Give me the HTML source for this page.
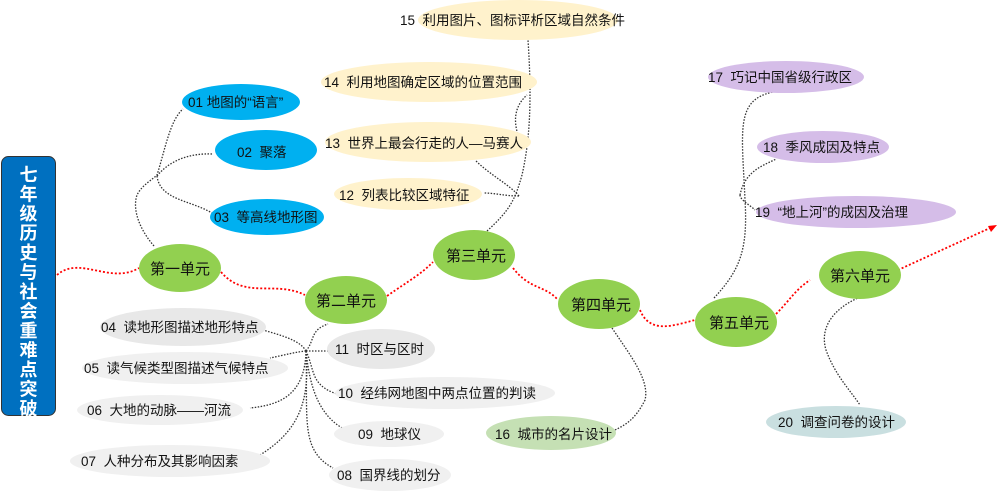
<!DOCTYPE html>
<html><head><meta charset="utf-8"><style>
html,body{margin:0;padding:0;background:#fff;}
svg{display:block;}
text{font-family:"Liberation Sans","Noto Sans CJK SC",sans-serif;font-size:13.5px;fill:#111;white-space:pre;}
.u{font-size:15px;}
.b{fill:none;stroke:#333;stroke-width:1.3;stroke-dasharray:1.5 1.5;}
.r{fill:none;stroke:#f00;stroke-width:1.8;stroke-dasharray:2 2;}
</style></head><body>
<svg width="998" height="493" viewBox="0 0 998 493" xmlns="http://www.w3.org/2000/svg">
<!-- black connectors -->
<path class="b" d="M154 246 C140 230,132 210,137 195 C142 185,152 180,157 175 C165 150,170 120,183 109"/>
<path class="b" d="M157 176 C170 160,190 153,213 154"/>
<path class="b" d="M157 176 C160 200,190 200,212 213"/>
<path class="b" d="M306 351 C315 340,310 330,328 324"/>
<path class="b" d="M306 351 L329 351"/>
<path class="b" d="M306 351 C300 340,280 335,263 330"/>
<path class="b" d="M306 351 C295 352,285 355,270 358"/>
<path class="b" d="M306 351 C305 395,280 405,250 408"/>
<path class="b" d="M306 351 C310 400,300 430,260 455"/>
<path class="b" d="M306 351 C315 370,310 385,337 394"/>
<path class="b" d="M306 351 C310 390,320 420,352 433"/>
<path class="b" d="M306 351 C308 420,300 450,333 468"/>
<path class="b" d="M487 231 C510 210,515 200,522 175 C530 140,532 100,528 40"/>
<path class="b" d="M522 145 C515 130,510 110,527 95"/>
<path class="b" d="M519 196 C510 185,490 175,475 160"/>
<path class="b" d="M519 196 C505 196,495 193,484 193"/>
<path class="b" d="M612 328 C630 355,650 380,645 400 C635 420,625 425,615 430"/>
<path class="b" d="M714 298 C740 270,748 250,745 200 C742 130,735 100,773 92"/>
<path class="b" d="M740 195 C745 170,765 165,776 159"/>
<path class="b" d="M740 195 C740 200,750 205,755 210"/>
<path class="b" d="M860 297 C830 310,820 330,826 350 C835 375,850 390,860 405"/>
<!-- red connectors -->
<path class="r" d="M57 275 C80 255,110 285,139 268"/>
<path class="r" d="M221 272 C245 300,275 280,305 295"/>
<path class="r" d="M387 296 C410 280,420 275,433 262"/>
<path class="r" d="M513 268 C530 290,545 285,558 300"/>
<path class="r" d="M640 310 C650 335,675 325,695 320"/>
<path class="r" d="M776 314 C790 300,795 290,810 280"/>
<path class="r" d="M898 270 L990 228"/>
<path d="M997 225 L988 226 L991 232 Z" fill="#f00"/>
<!-- title -->
<rect x="1.5" y="156.5" width="54" height="259" rx="7" fill="#0070c0" stroke="#333" stroke-width="1"/>
<text x="28.5" y="181" text-anchor="middle" style="font-size:18px;font-weight:bold;fill:#fff">
<tspan x="28.5" dy="0">七</tspan><tspan x="28.5" dy="19.5">年</tspan><tspan x="28.5" dy="19.5">级</tspan><tspan x="28.5" dy="19.5">历</tspan><tspan x="28.5" dy="19.5">史</tspan><tspan x="28.5" dy="19.5">与</tspan><tspan x="28.5" dy="19.5">社</tspan><tspan x="28.5" dy="19.5">会</tspan><tspan x="28.5" dy="19.5">重</tspan><tspan x="28.5" dy="19.5">难</tspan><tspan x="28.5" dy="19.5">点</tspan><tspan x="28.5" dy="19.5">突</tspan><tspan x="28.5" dy="19.5">破</tspan></text>
<!-- blue -->
<ellipse cx="241" cy="102" rx="59" ry="18" fill="#00b0f0"/>
<text x="188" y="107">01 地图的“语言”</text>
<ellipse cx="266" cy="150" rx="51" ry="20" fill="#00b0f0"/>
<text x="237" y="157">02  聚落</text>
<ellipse cx="267" cy="217" rx="57" ry="18" fill="#00b0f0"/>
<text x="214" y="222">03  等高线地形图</text>
<!-- grey -->
<ellipse cx="183" cy="327" rx="83" ry="19" fill="#e8e8e8"/>
<text x="101" y="332">04  读地形图描述地形特点</text>
<ellipse cx="185" cy="368" rx="103" ry="16" fill="#f0f0f0"/>
<text x="84" y="373">05  读气候类型图描述气候特点</text>
<ellipse cx="160" cy="410" rx="83" ry="15" fill="#f0f0f0"/>
<text x="87" y="415">06  大地的动脉——河流</text>
<ellipse cx="170" cy="461" rx="100" ry="16" fill="#f0f0f0"/>
<text x="81" y="466">07  人种分布及其影响因素</text>
<ellipse cx="381" cy="349" rx="54" ry="20" fill="#e8e8e8"/>
<text x="335" y="354">11  时区与区时</text>
<ellipse cx="445" cy="393" rx="110" ry="16" fill="#f0f0f0"/>
<text x="338" y="398">10  经纬网地图中两点位置的判读</text>
<ellipse cx="389" cy="434" rx="55" ry="13" fill="#f0f0f0"/>
<text x="358" y="439">09  地球仪</text>
<ellipse cx="390" cy="475" rx="61" ry="16" fill="#f0f0f0"/>
<text x="337" y="480">08  国界线的划分</text>
<!-- yellow -->
<ellipse cx="518" cy="20" rx="100" ry="20" fill="#fff2cc"/>
<text x="400" y="25">15  利用图片、图标评析区域自然条件</text>
<ellipse cx="429" cy="82" rx="108" ry="20" fill="#fff2cc"/>
<text x="324" y="87">14  利用地图确定区域的位置范围</text>
<ellipse cx="428" cy="142" rx="103" ry="20" fill="#fff2cc"/>
<text x="325" y="148">13  世界上最会行走的人—马赛人</text>
<ellipse cx="408" cy="194" rx="74" ry="16" fill="#fff2cc"/>
<text x="339" y="200">12  列表比较区域特征</text>
<ellipse cx="551" cy="433" rx="65" ry="17" fill="#c5e0b4"/>
<text x="495" y="439">16  城市的名片设计</text>
<!-- purple -->
<ellipse cx="786" cy="77" rx="78" ry="16" fill="#d5bde8"/>
<text x="708" y="82">17  巧记中国省级行政区</text>
<ellipse cx="823" cy="147" rx="66" ry="16" fill="#d5bde8"/>
<text x="763" y="152">18  季风成因及特点</text>
<ellipse cx="856" cy="212" rx="100" ry="16" fill="#d5bde8"/>
<text x="755" y="217">19  “地上河”的成因及治理</text>
<ellipse cx="836" cy="422" rx="70" ry="16" fill="#c9dfe0"/>
<text x="778" y="427">20  调查问卷的设计</text>
<!-- units -->
<ellipse cx="180" cy="268" rx="41" ry="24" fill="#92d050"/>
<text class="u" x="180" y="274" text-anchor="middle">第一单元</text>
<ellipse cx="346" cy="300" rx="41" ry="24" fill="#92d050"/>
<text class="u" x="346" y="306" text-anchor="middle">第二单元</text>
<ellipse cx="474" cy="255" rx="41" ry="25" fill="#92d050"/>
<text class="u" x="476" y="261" text-anchor="middle">第三单元</text>
<ellipse cx="599" cy="304" rx="41" ry="25" fill="#92d050"/>
<text class="u" x="601" y="310" text-anchor="middle">第四单元</text>
<ellipse cx="736" cy="322" rx="41" ry="25" fill="#92d050"/>
<text class="u" x="739" y="328" text-anchor="middle">第五单元</text>
<ellipse cx="860" cy="275" rx="41" ry="24" fill="#92d050"/>
<text class="u" x="860" y="281" text-anchor="middle">第六单元</text>
</svg>
</body></html>
